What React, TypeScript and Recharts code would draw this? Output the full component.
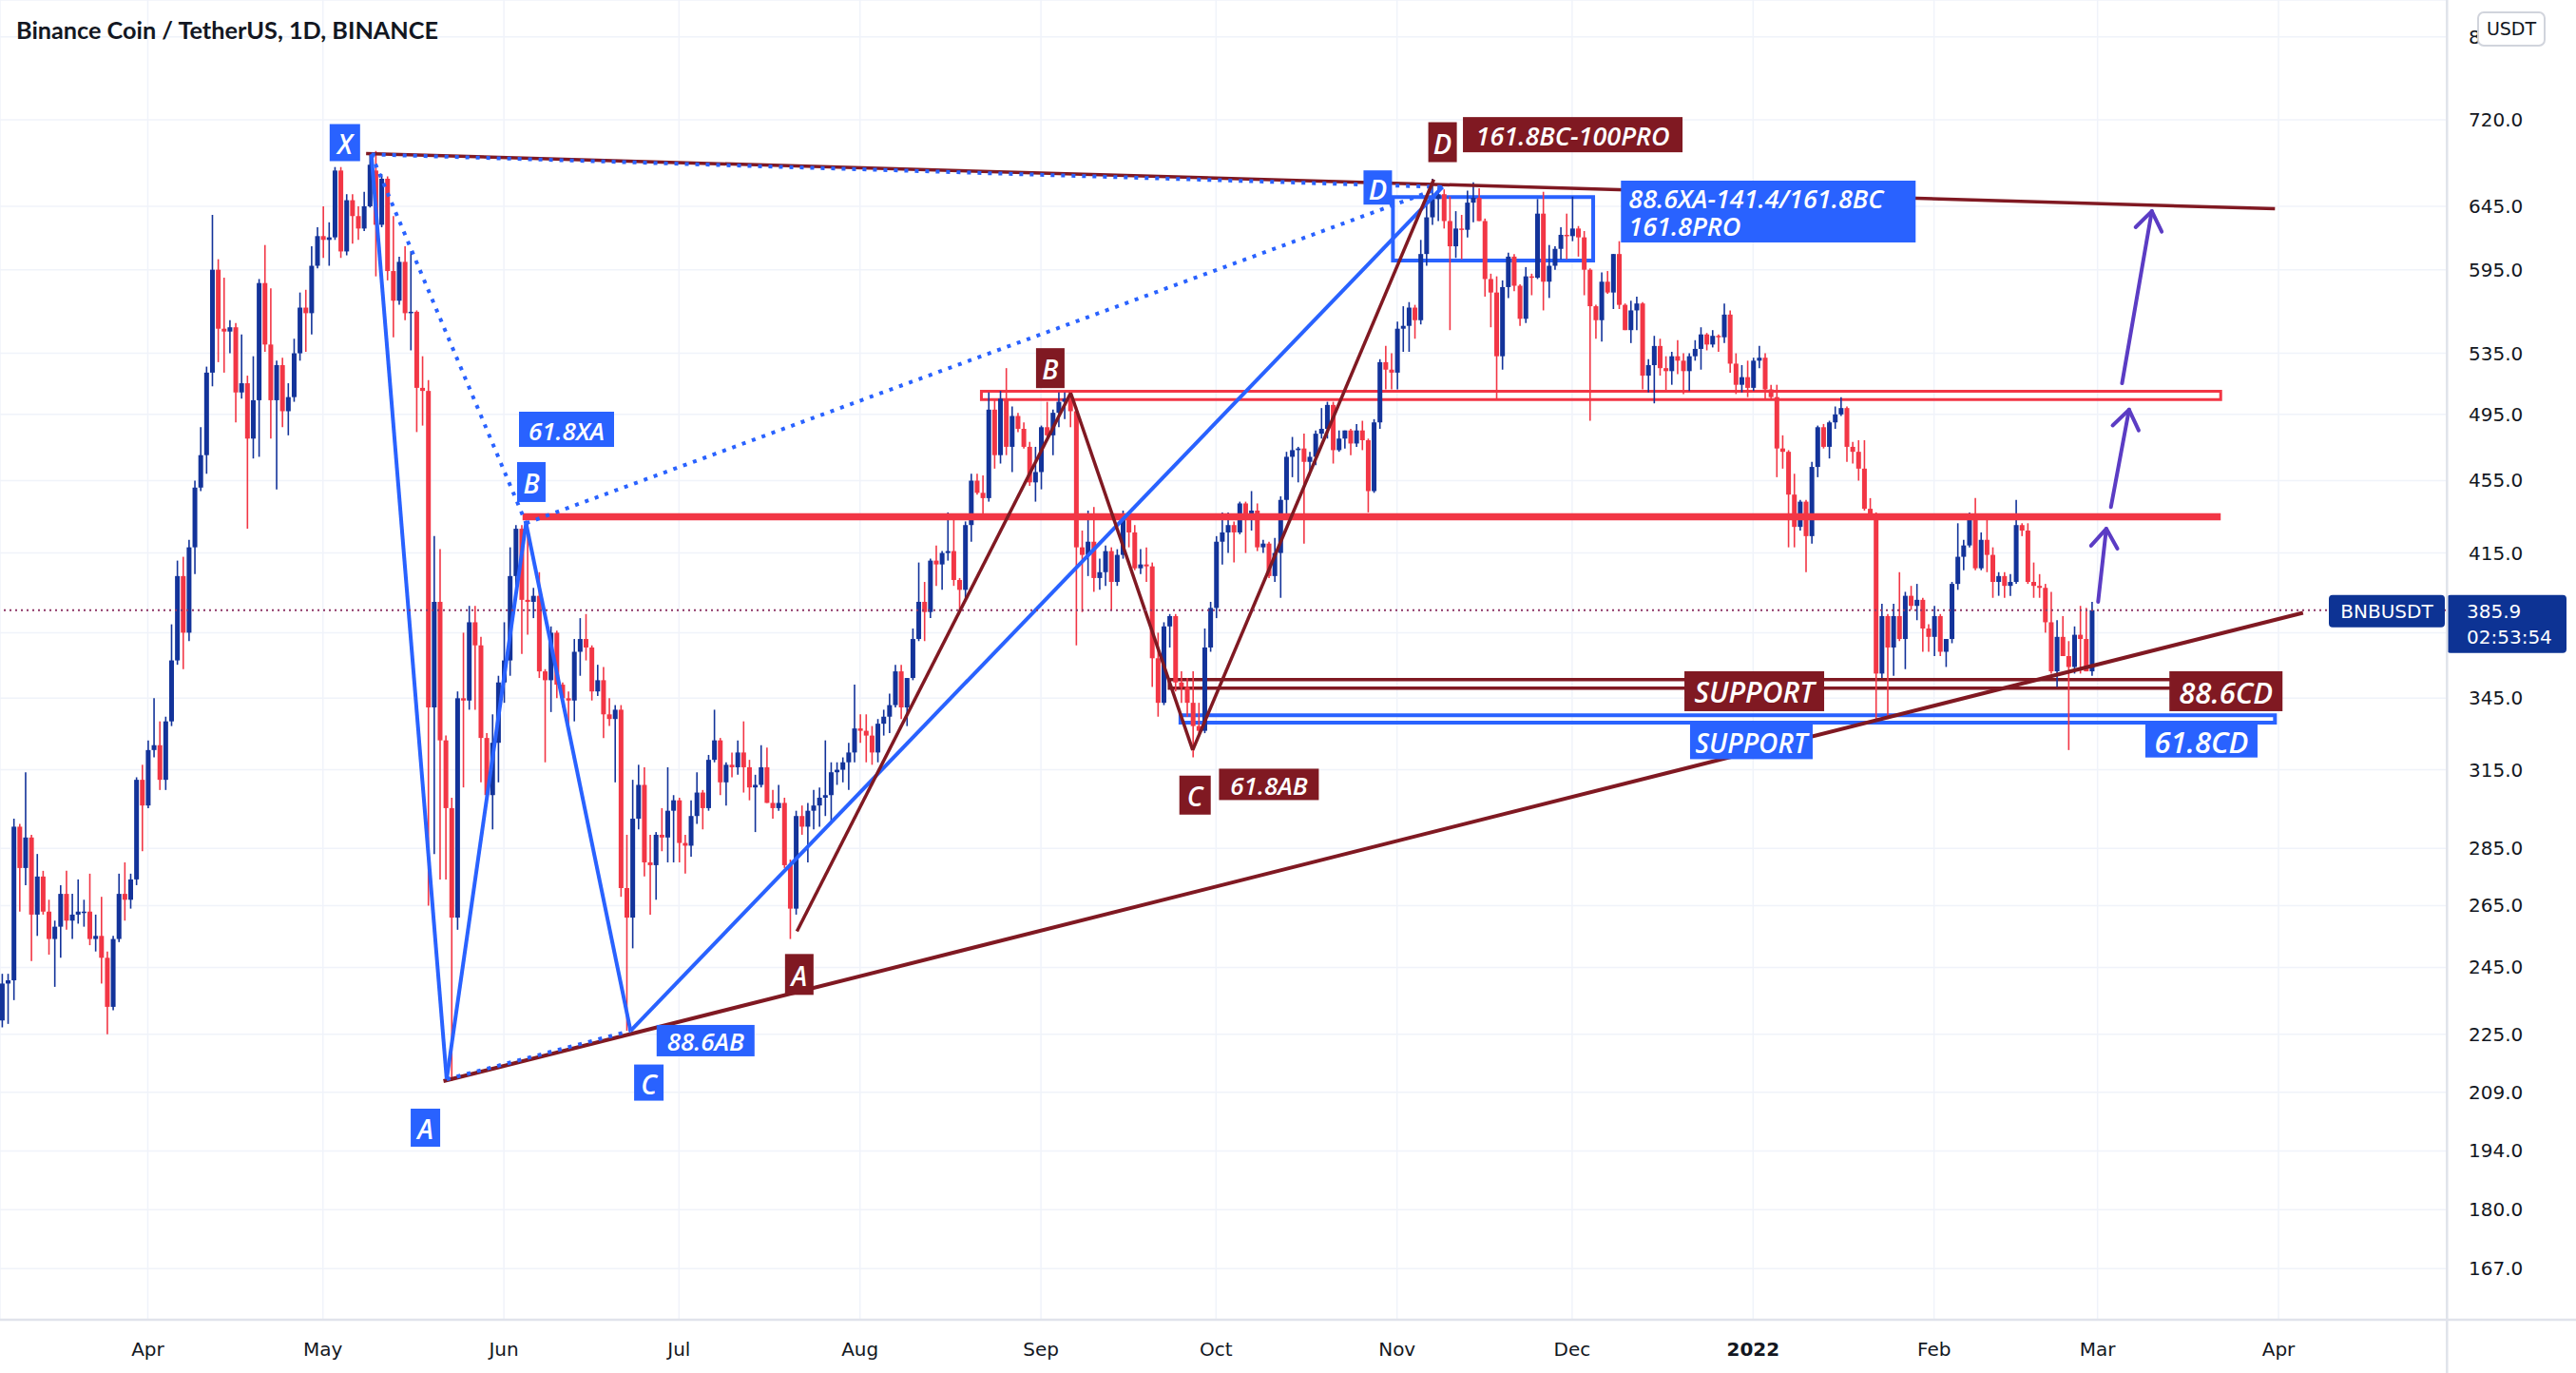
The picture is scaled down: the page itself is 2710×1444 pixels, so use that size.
import React from 'react';
import {
  ComposedChart,
  Bar,
  XAxis,
  YAxis,
  CartesianGrid,
  ReferenceLine,
  ReferenceArea,
  ReferenceDot,
} from 'recharts';

// day index 0 = 2021-04-01; first candle is 2021-03-07
const FIRST_DAY = -25;

// BNB/USDT daily candles: [open, high, low, close]
const candles: number[][] = [
  // Mar 7
  [229, 243, 227, 240], [240, 243, 228, 241], [241, 296, 235, 293], [293, 294, 263, 278], [278, 314, 272, 289], [289, 290, 247, 262], [262, 283, 255, 275],
  [275, 277, 262, 263], [263, 267, 249, 254], [254, 260, 239, 258], [258, 272, 248, 269], [269, 277, 257, 260], [260, 269, 254, 262], [262, 274, 259, 263],
  [263, 267, 258, 263], [263, 276, 252, 254], [254, 262, 250, 255], [255, 268, 240, 248], [248, 250, 225, 233], [233, 255, 232, 254], [254, 276, 253, 269],
  [269, 280, 260, 267], [267, 276, 264, 274], [274, 312, 272, 311], [311, 317, 284, 301],
  // Apr 1
  [301, 327, 300, 323], [323, 345, 320, 325], [325, 335, 307, 311], [311, 337, 307, 335], [335, 379, 333, 362], [362, 411, 360, 403], [403, 413, 358, 375],
  [375, 422, 371, 418], [418, 455, 404, 451], [451, 487, 449, 470], [470, 526, 459, 522], [522, 638, 513, 595], [595, 603, 529, 552], [552, 589, 522, 550],
  [550, 558, 535, 553], [553, 556, 490, 509], [509, 548, 505, 515], [515, 520, 428, 480], [480, 533, 468, 504], [504, 588, 469, 585], [585, 614, 536, 541],
  [541, 581, 480, 504], [504, 530, 450, 527], [527, 532, 487, 497], [497, 515, 482, 506], [506, 545, 503, 535], [535, 578, 530, 567], [567, 580, 536, 563],
  [563, 613, 548, 598], [598, 628, 596, 621], [621, 645, 604, 618], [618, 632, 598, 620], [620, 678, 618, 675], [675, 678, 604, 609], [609, 655, 606, 650],
  // May 6
  [650, 655, 615, 637], [637, 645, 618, 627], [627, 657, 625, 645], [645, 690, 644, 680], [675, 692, 590, 630], [630, 672, 628, 668], [668, 670, 587, 594],
  [594, 637, 546, 572], [572, 605, 569, 601], [601, 613, 558, 563], [563, 609, 537, 564], [564, 565, 484, 512], [512, 533, 488, 510], [510, 517, 265, 341],
  [341, 424, 283, 390], [390, 417, 274, 327], [327, 329, 274, 300], [300, 304, 212, 261], [261, 348, 257, 345], [345, 375, 308, 344], [344, 388, 340, 380],
  [380, 388, 340, 369], [369, 373, 310, 328], [328, 330, 303, 305], [305, 338, 292, 326], [326, 355, 310, 352], [352, 380, 343, 362], [362, 418, 355, 403],
  // Jun 3
  [403, 430, 394, 428], [428, 430, 365, 391], [391, 432, 374, 390], [390, 397, 382, 393], [393, 405, 354, 357], [357, 358, 318, 353], [353, 378, 339, 375],
  [375, 376, 345, 351], [351, 352, 341, 345], [345, 348, 331, 344], [344, 372, 335, 366], [366, 382, 355, 372], [372, 384, 362, 368], [368, 369, 344, 348],
  [348, 360, 346, 353], [353, 359, 328, 338], [338, 345, 333, 336], [336, 342, 310, 340], [340, 342, 268, 271], [271, 290, 226, 261], [261, 311, 251, 296],
  [296, 317, 292, 309], [309, 316, 275, 280], [280, 290, 262, 279], [279, 291, 267, 290], [290, 300, 284, 289], [289, 316, 280, 299], [299, 305, 280, 303],
  // Jul 1
  [303, 304, 280, 287], [287, 290, 276, 286], [286, 303, 282, 297], [297, 314, 294, 306], [306, 307, 292, 300], [300, 321, 299, 319], [319, 340, 318, 327],
  [327, 328, 305, 310], [310, 318, 301, 317], [317, 322, 312, 316], [316, 327, 313, 322], [322, 335, 306, 316], [316, 319, 303, 308], [308, 313, 291, 309],
  [309, 325, 308, 316], [316, 324, 302, 302], [302, 307, 296, 300], [300, 309, 299, 302], [302, 304, 278, 279], [279, 281, 254, 264], [264, 299, 262, 297],
  [297, 301, 290, 293], [293, 302, 280, 299], [299, 307, 292, 301], [301, 308, 293, 304], [304, 327, 297, 305], [305, 318, 295, 314], [314, 318, 309, 315],
  [315, 320, 310, 318], [318, 326, 307, 322], [322, 351, 318, 332], [332, 338, 326, 331], [331, 338, 318, 329], [329, 333, 317, 322], [322, 336, 318, 334],
  // Aug 5
  [334, 340, 329, 337], [337, 347, 330, 342], [342, 360, 341, 357], [357, 360, 336, 341], [341, 354, 333, 354], [354, 377, 353, 372], [372, 410, 371, 390],
  [390, 400, 371, 385], [385, 412, 382, 411], [411, 419, 398, 409], [409, 416, 396, 415], [415, 437, 411, 416], [416, 435, 398, 401], [401, 402, 386, 396],
  [396, 432, 392, 430], [430, 459, 421, 455], [455, 459, 447, 448], [448, 458, 436, 445], [445, 509, 443, 498], [498, 505, 462, 470], [470, 510, 465, 505],
  [505, 525, 470, 475], [475, 500, 460, 494], [494, 496, 484, 486], [486, 490, 474, 475], [475, 478, 452, 454], [454, 475, 443, 460], [460, 488, 450, 487],
  [487, 503, 481, 482], [482, 498, 470, 496], [496, 509, 487, 503], [503, 509, 492, 505], [505, 509, 487, 497], [497, 500, 369, 418], [418, 427, 385, 414],
  // Sep 9
  [414, 438, 403, 421], [421, 440, 395, 402], [402, 412, 396, 405], [405, 419, 398, 416], [416, 418, 386, 400], [400, 417, 398, 414], [414, 438, 412, 433],
  [433, 436, 418, 426], [426, 430, 406, 407], [407, 417, 404, 409], [409, 418, 400, 408], [408, 410, 350, 363], [363, 375, 337, 343], [343, 380, 342, 378],
  [378, 384, 368, 383], [383, 384, 348, 352], [352, 357, 343, 350], [350, 354, 337, 343], [343, 357, 320, 333], [333, 343, 330, 331], [331, 377, 330, 368],
  [368, 390, 366, 387], [387, 424, 382, 421], [421, 437, 409, 426], [426, 437, 415, 430], [430, 432, 410, 426], [426, 443, 425, 442], [442, 443, 415, 435],
  // Oct 7
  [435, 449, 427, 438], [438, 442, 416, 418], [418, 422, 415, 420], [420, 421, 402, 403], [403, 423, 400, 415], [415, 446, 392, 444], [444, 472, 433, 469],
  [469, 481, 457, 473], [473, 475, 454, 474], [474, 483, 420, 466], [466, 472, 458, 469], [469, 485, 464, 483], [483, 499, 480, 486], [486, 503, 480, 501],
  [501, 503, 465, 473], [473, 485, 472, 480], [480, 485, 474, 485], [485, 486, 470, 477], [477, 489, 475, 485], [485, 491, 473, 479], [479, 480, 437, 449],
  [449, 492, 448, 490], [490, 531, 486, 529], [529, 540, 511, 524], [524, 535, 511, 522], [522, 557, 511, 552], [552, 568, 536, 554], [554, 571, 536, 567],
  // Nov 4
  [567, 569, 545, 558], [558, 618, 555, 607], [607, 655, 598, 636], [636, 668, 630, 651], [651, 660, 633, 655], [655, 659, 627, 633], [633, 653, 551, 613],
  [613, 641, 604, 627], [627, 638, 603, 626], [626, 658, 620, 648], [648, 665, 632, 652], [652, 660, 633, 633], [633, 635, 575, 588], [588, 592, 553, 578],
  [578, 590, 505, 533], [533, 587, 524, 582], [582, 608, 574, 605], [605, 607, 579, 583], [583, 584, 554, 559], [559, 597, 556, 590], [590, 592, 576, 589],
  [589, 651, 588, 639], [639, 657, 565, 586], [586, 614, 574, 598], [598, 613, 595, 611], [611, 628, 603, 622], [622, 639, 603, 621], [621, 653, 617, 627],
  // Dec 2
  [627, 629, 605, 620], [620, 625, 576, 595], [595, 596, 491, 568], [568, 569, 545, 558], [558, 593, 543, 586], [586, 594, 577, 578], [578, 607, 566, 607],
  [607, 617, 566, 569], [569, 570, 551, 551], [551, 572, 542, 565], [565, 575, 551, 570], [570, 571, 511, 520], [520, 531, 509, 527], [527, 547, 502, 540],
  [540, 545, 520, 525], [525, 533, 510, 523], [523, 536, 514, 533], [533, 544, 521, 530], [530, 535, 508, 523], [523, 535, 510, 533], [533, 544, 530, 538],
  [538, 553, 524, 548], [548, 549, 537, 541], [541, 551, 539, 547], [547, 548, 536, 546], [546, 570, 542, 562], [562, 565, 522, 528], [528, 535, 508, 514],
  // Dec 30
  [514, 527, 509, 519], [519, 530, 506, 512], [512, 532, 510, 530], [530, 540, 525, 532], [532, 535, 505, 511], [511, 514, 504, 506], [506, 514, 457, 474],
  [474, 482, 462, 472], [472, 473, 418, 447], [447, 459, 418, 429], [429, 444, 427, 443], [443, 444, 405, 424], [424, 466, 420, 463], [463, 488, 457, 487],
  [487, 489, 474, 475], [475, 491, 468, 490], [490, 500, 486, 495], [495, 506, 494, 499], [499, 500, 466, 475], [475, 478, 465, 472], [472, 479, 455, 462],
  [462, 479, 438, 439], [439, 445, 433, 434], [434, 437, 336, 356], [356, 389, 354, 383], [383, 384, 336, 368], [368, 389, 355, 383], [383, 405, 371, 372],
  // Jan 27
  [372, 395, 358, 393], [393, 398, 386, 388], [388, 399, 381, 391], [391, 392, 366, 377], [377, 379, 366, 373], [373, 388, 364, 383], [383, 384, 364, 366],
  [366, 372, 359, 372], [372, 400, 370, 399], [399, 431, 396, 413], [413, 422, 406, 419], [419, 437, 418, 433], [433, 445, 406, 407], [407, 426, 406, 422],
  [422, 433, 405, 414], [414, 418, 392, 400], [400, 405, 393, 403], [403, 405, 392, 398], [398, 404, 393, 400], [400, 444, 399, 430], [430, 431, 424, 427],
  [427, 431, 399, 400], [400, 410, 392, 398], [398, 404, 392, 397], [397, 399, 375, 380], [380, 395, 356, 357], [357, 381, 350, 373], [373, 383, 364, 364],
  [364, 371, 323, 359], [359, 378, 356, 374], [374, 388, 356, 372], [372, 387, 357, 357], [357, 390, 355, 385.9],
];

const monthTicks = [0, 30, 61, 91, 122, 153, 183, 214, 244, 275, 306, 334, 365];
const monthLabels = ['Apr', 'May', 'Jun', 'Jul', 'Aug', 'Sep', 'Oct', 'Nov', 'Dec', '2022', 'Feb', 'Mar', 'Apr'];
const priceTicks = [167, 180, 194, 209, 225, 245, 265, 285, 315, 345, 375, 415, 455, 495, 535, 595, 645, 720, 800];
const lastPrice = 385.9;
const countdown = '02:53:54';

// harmonic pattern points as (day, price)
const bX = { x: 38.3, y: 689 };
const bA = { x: 51.2, y: 212.5 };
const bB = { x: 64.8, y: 431 };
const bC = { x: 82.7, y: 226 };
const bD = { x: 221.8, y: 661 };
const mA = { x: 111.2, y: 256.5 };
const mB = { x: 158.1, y: 508.7 };
const mC = { x: 179.0, y: 323 };
const mD = { x: 220.3, y: 667.4 };

const upperTrend = [{ x: 37.4, y: 689.8 }, { x: 364.4, y: 643 }];
const lowerTrend = [{ x: 50.65, y: 212 }, { x: 369.2, y: 384.6 }];
const resistance = [{ x: 64.2, y: 434.5 }, { x: 355.1, y: 434.5 }];

const arrows = [
  [{ x: 334.1, y: 390 }, { x: 335.5, y: 428 }],
  [{ x: 336.3, y: 440 }, { x: 339.4, y: 498 }],
  [{ x: 338.2, y: 515 }, { x: 343.3, y: 641 }],
];

const W = 2710;
const H = 1444;
const AXIS_W = 136;
const AXIS_H = 56;
const X_MIN = -25.32;
const X_MAX = 393.82;
const Y_MIN = 156.5;
const Y_MAX = 838.5;

const BLUE = '#2962ff';
const MAROON = '#801922';
const RED = '#f23645';
const UP = '#13339a';
const DOWN = '#f23645';
const ARROW = '#5b3cc4';
const BADGE = '#0d3394';
const TEXT = '#131722';

const zones = [
  { x1: 142.8, x2: 355.1, y1: 504.4, y2: 509.8, color: RED, w: 3 },
  { x1: 213.3, x2: 247.6, y1: 602, y2: 652.6, color: BLUE, w: 4 },
  { x1: 175.0, x2: 364.4, y1: 349.5, y2: 353.3, color: MAROON, w: 3.5 },
  { x1: 176.9, x2: 364.4, y1: 334.5, y2: 337.6, color: BLUE, w: 4 },
];

const tags = [
  { text: 'X', x: 33.76, y: 699.4, color: BLUE, size: 28, w: 32, h: 39 },
  { text: '61.8XA', x: 71.73, y: 485.7, color: BLUE, size: 26, w: 100, h: 37 },
  { text: 'B', x: 65.7, y: 454.2, color: BLUE, size: 28, w: 30, h: 42 },
  { text: 'A', x: 47.56, y: 199.8, color: BLUE, size: 28, w: 31, h: 40 },
  { text: 'C', x: 85.83, y: 211.6, color: BLUE, size: 28, w: 31, h: 38 },
  { text: '88.6AB', x: 95.55, y: 223.2, color: BLUE, size: 26, w: 103, h: 33 },
  { text: 'D', x: 210.7, y: 660.6, color: BLUE, size: 29, w: 30, h: 36 },
  { text: '88.6XA-141.4/161.8BC\n161.8PRO', x: 277.6, y: 640.7, color: BLUE, size: 27, w: 310, h: 65 },
  { text: 'B', x: 154.6, y: 525, color: MAROON, size: 28, w: 30, h: 42 },
  { text: 'A', x: 111.6, y: 242.8, color: MAROON, size: 28, w: 30, h: 43 },
  { text: 'C', x: 179.4, y: 305, color: MAROON, size: 28, w: 33, h: 41 },
  { text: '61.8AB', x: 192.05, y: 309.2, color: MAROON, size: 26, w: 105, h: 33 },
  { text: 'D', x: 221.8, y: 699.8, color: MAROON, size: 29, w: 30, h: 42 },
  { text: '161.8BC-100PRO', x: 244.1, y: 706.5, color: MAROON, size: 27, w: 231, h: 37 },
  { text: 'SUPPORT', x: 275.2, y: 348.1, color: MAROON, size: 30, w: 147, h: 42 },
  { text: '88.6CD', x: 356.0, y: 348.1, color: MAROON, size: 31, w: 119, h: 42 },
  { text: 'SUPPORT', x: 274.7, y: 326.5, color: BLUE, size: 28, w: 129, h: 37 },
  { text: '61.8CD', x: 351.8, y: 326.8, color: BLUE, size: 31, w: 118, h: 35 },
];

const rows = candles.map((c, i) => ({
  day: i + FIRST_DAY,
  o: c[0],
  h: c[1],
  l: c[2],
  c: c[3],
  range: [c[2], c[1]],
}));

function Candle(props: any) {
  const { x, y, width, height, payload } = props;
  if (x == null || y == null) return <g />;
  const cx = x + width / 2;
  const top = Math.min(y, y + height);
  const bottom = Math.max(y, y + height);
  const lh = Math.log(payload.h);
  const ll = Math.log(payload.l);
  const span = lh - ll || 1;
  const py = (v: number) => top + ((bottom - top) * (lh - Math.log(v))) / span;
  const up = payload.c >= payload.o;
  const color = up ? UP : DOWN;
  const bTop = py(Math.max(payload.o, payload.c));
  const bBot = py(Math.min(payload.o, payload.c));
  return (
    <g>
      <line x1={cx} x2={cx} y1={top} y2={bottom} stroke={color} strokeWidth={1.6} />
      <rect x={cx - 2.5} y={bTop} width={5} height={Math.max(bBot - bTop, 1.5)} fill={color} />
    </g>
  );
}

function XTick(props: any) {
  const { x, y, payload } = props;
  const label = monthLabels[monthTicks.indexOf(payload.value)];
  return (
    <text x={x} y={y + 36} textAnchor="middle" fontSize={20} fontFamily="DejaVu Sans" fill={TEXT} fontWeight={label === '2022' ? 700 : 400}>
      {label}
    </text>
  );
}

function YTick(props: any) {
  const { x, y, payload } = props;
  // 375 sits under the last-price badge
  if (payload.value === 375) return <g />;
  return (
    <text x={x + 21} y={y + 7} fontSize={20} fontFamily="DejaVu Sans" fill={TEXT}>
      {payload.value.toFixed(1)}
    </text>
  );
}

function TagShape(props: any) {
  const { cx, cy, tag } = props;
  if (cx == null || cy == null) return <g />;
  const lines = tag.text.split('\n');
  const font = {
    fontFamily: "'Open Sans', sans-serif",
    fontStyle: 'italic' as const,
    fontWeight: 600,
    fontSize: tag.size,
    fill: '#ffffff',
  };
  return (
    <g>
      <rect x={cx - tag.w / 2} y={cy - tag.h / 2} width={tag.w} height={tag.h} fill={tag.color} />
      {lines.length === 1 ? (
        <text x={cx} y={cy + 1} textAnchor="middle" dominantBaseline="central" {...font}>
          {tag.text}
        </text>
      ) : (
        lines.map((ln: string, i: number) => (
          <text key={i} x={cx - tag.w / 2 + 8} y={cy + (i - (lines.length - 1) / 2) * 29 + 1} dominantBaseline="central" {...font}>
            {ln}
          </text>
        ))
      )}
    </g>
  );
}

function ArrowShape(props: any) {
  const { x1, y1, x2, y2 } = props;
  if (x1 == null) return <g />;
  const ang = Math.atan2(y2 - y1, x2 - x1);
  const len = 24;
  const spread = 0.62;
  const a1 = ang + Math.PI - spread;
  const a2 = ang + Math.PI + spread;
  return (
    <g stroke={ARROW} strokeWidth={4} fill="none" strokeLinecap="round" strokeLinejoin="round">
      <line x1={x1} y1={y1} x2={x2} y2={y2} />
      <polyline
        points={`${x2 + len * Math.cos(a1)},${y2 + len * Math.sin(a1)} ${x2},${y2} ${x2 + len * Math.cos(a2)},${y2 + len * Math.sin(a2)}`}
      />
    </g>
  );
}

function PriceTag(props: any) {
  const vb = props.viewBox;
  if (!vb) return <g />;
  const right = vb.x + vb.width;
  const y = vb.y;
  return (
    <g>
      <rect x={right - 124} y={y - 16} width={122} height={34} rx={4} fill={BADGE} />
      <text x={right - 63} y={y + 8} textAnchor="middle" fontSize={20} fontFamily="DejaVu Sans" fill="#fff">
        BNBUSDT
      </text>
      <rect x={right} y={y - 16} width={126} height={61} rx={4} fill={BADGE} />
      <text x={right + 21} y={y + 8} fontSize={20} fontFamily="DejaVu Sans" fill="#fff">
        {lastPrice.toFixed(1)}
      </text>
      <text x={right + 21} y={y + 35} fontSize={20} fontFamily="DejaVu Sans" fill="#fff">
        {countdown}
      </text>
    </g>
  );
}

export default function App() {
  const seg = (a: any, b: any) => [a, b];
  return (
    <div style={{ position: 'absolute', left: 0, top: 0, width: W, height: H, background: '#ffffff', overflow: 'hidden' }}>
      <ComposedChart width={W} height={H} data={rows} margin={{ top: 0, right: 0, bottom: 0, left: 0 }}>
        <CartesianGrid stroke="#f0f3fa" strokeWidth={1.5} />
        <XAxis
          dataKey="day"
          type="number"
          domain={[X_MIN, X_MAX]}
          allowDataOverflow
          ticks={monthTicks}
          interval={0}
          tick={<XTick />}
          tickLine={false}
          axisLine={false}
          tickSize={0}
          height={AXIS_H}
        />
        <YAxis
          orientation="right"
          type="number"
          scale="log"
          domain={[Y_MIN, Y_MAX]}
          allowDataOverflow
          ticks={priceTicks}
          interval={0}
          tick={<YTick />}
          tickLine={false}
          axisLine={false}
          tickSize={0}
          width={AXIS_W}
        />
        <Bar dataKey="range" barSize={5} shape={Candle} isAnimationActive={false} />

        {zones.map((z, i) => (
          <ReferenceArea key={`z${i}`} x1={z.x1} x2={z.x2} y1={z.y1} y2={z.y2} fill="none" fillOpacity={0} stroke={z.color} strokeWidth={z.w} />
        ))}
        <ReferenceLine segment={resistance} stroke={RED} strokeWidth={7.5} />
        <ReferenceLine segment={upperTrend} stroke={MAROON} strokeWidth={3.5} />
        <ReferenceLine segment={lowerTrend} stroke={MAROON} strokeWidth={4} />

        {[seg(bX, bB), seg(bB, bD), seg(bX, bD), seg(bA, bC)].map((s, i) => (
          <ReferenceLine key={`bd${i}`} segment={s} stroke={BLUE} strokeWidth={4} strokeDasharray="4 7" />
        ))}
        {[seg(bX, bA), seg(bA, bB), seg(bB, bC), seg(bC, bD)].map((s, i) => (
          <ReferenceLine key={`bs${i}`} segment={s} stroke={BLUE} strokeWidth={4} />
        ))}
        {[seg(mA, mB), seg(mB, mC), seg(mC, mD)].map((s, i) => (
          <ReferenceLine key={`ms${i}`} segment={s} stroke={MAROON} strokeWidth={3.5} />
        ))}
        {arrows.map((s, i) => (
          <ReferenceLine key={`ar${i}`} segment={s} stroke={ARROW} shape={ArrowShape} />
        ))}

        <ReferenceLine y={lastPrice} stroke="#8e3566" strokeWidth={2} strokeDasharray="2 4" label={<PriceTag />} />

        {tags.map((t, i) => (
          <ReferenceDot key={`t${i}`} x={t.x} y={t.y} r={1} shape={(p: any) => <TagShape {...p} tag={t} />} />
        ))}
      </ComposedChart>

      <svg width={W} height={H} style={{ position: 'absolute', left: 0, top: 0, pointerEvents: 'none' }}>
        <line x1={2574.3} y1={0} x2={2574.3} y2={H} stroke="#e0e3eb" strokeWidth={2.5} />
        <line x1={0} y1={1388} x2={W} y2={1388} stroke="#e0e3eb" strokeWidth={2.5} />
        <text x={17} y={41} fontFamily="Lato, 'Open Sans', sans-serif" fontWeight={700} fontSize={25} fill={TEXT} textLength={444} lengthAdjust="spacingAndGlyphs">
          Binance Coin / TetherUS, 1D, BINANCE
        </text>
        <rect x={2607} y={13} width={70} height={35} rx={6} fill="#ffffff" stroke="#d1d4dc" strokeWidth={2} />
        <text x={2642} y={37} textAnchor="middle" fontFamily="DejaVu Sans" fontSize={19} fill={TEXT}>
          USDT
        </text>
      </svg>
    </div>
  );
}
